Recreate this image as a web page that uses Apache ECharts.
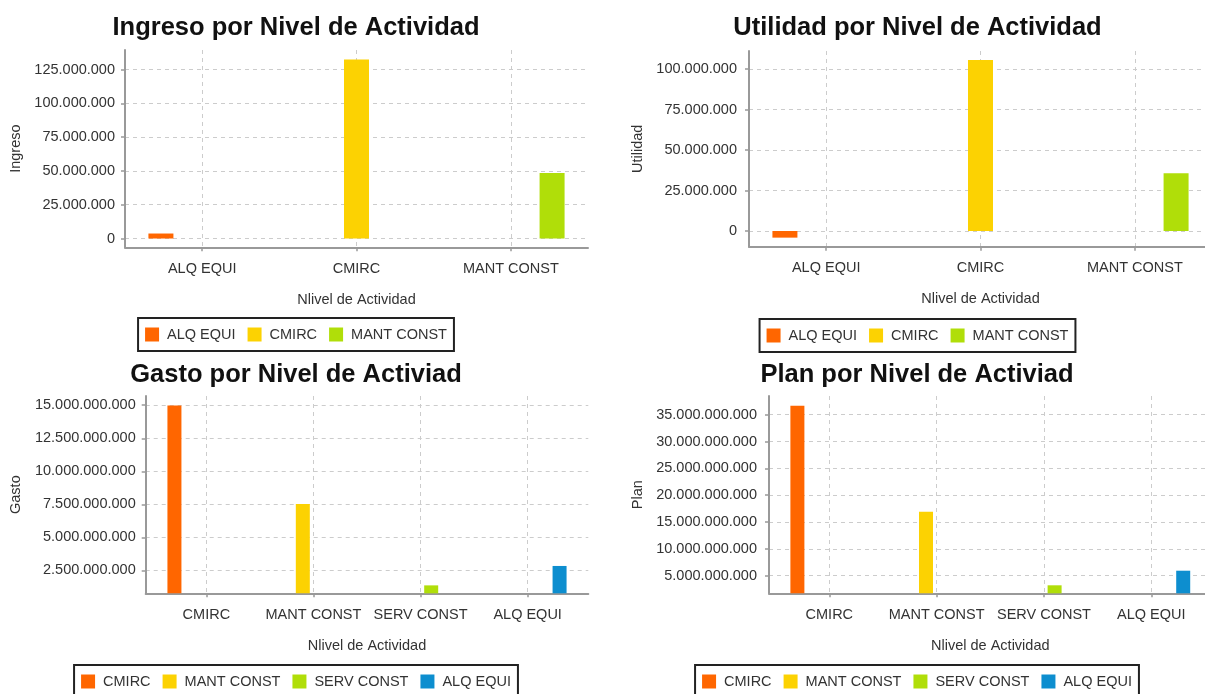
<!DOCTYPE html>
<html>
<head>
<meta charset="utf-8">
<title>Nivel de Actividad</title>
<script src="https://cdn.jsdelivr.net/npm/echarts@6/dist/echarts.min.js"></script>
<style>
  html, body { margin: 0; padding: 0; background: #fff; overflow: hidden; }
  .chart { position: absolute; }
</style>
</head>
<body>
<div id="ingreso" class="chart" style="left:0;top:0;width:592px;height:355px"></div>
<div id="utilidad" class="chart" style="left:600px;top:0;width:635px;height:355px"></div>
<div id="gasto" class="chart" style="left:0;top:355px;width:592px;height:339px"></div>
<div id="plan" class="chart" style="left:600px;top:355px;width:634px;height:339px"></div>
<script>
const palette = ['#FF6600', '#FCD202', '#B0DE09', '#0D8ECF'];
const xName = 'Nlivel de Actividad';

// Ingreso
const ingresoCategories = ['ALQ EQUI', 'CMIRC', 'MANT CONST'];
const ingresoValues = [3700000, 132400000, 48500000];
const ingresoTicks = [0, 25000000, 50000000, 75000000, 100000000, 125000000];

// Utilidad
const utilidadCategories = ['ALQ EQUI', 'CMIRC', 'MANT CONST'];
const utilidadValues = [-4100000, 105700000, 35700000];
const utilidadTicks = [0, 25000000, 50000000, 75000000, 100000000];

// Gasto
const gastoCategories = ['CMIRC', 'MANT CONST', 'SERV CONST', 'ALQ EQUI'];
const gastoValues = [14980000000, 7520000000, 1360000000, 2830000000];
const gastoTicks = [2500000000, 5000000000, 7500000000, 10000000000, 12500000000, 15000000000];

// Plan
const planCategories = ['CMIRC', 'MANT CONST', 'SERV CONST', 'ALQ EQUI'];
const planValues = [36680000000, 16920000000, 3210000000, 5930000000];
const planTicks = [5000000000, 10000000000, 15000000000, 20000000000, 25000000000, 30000000000, 35000000000];

const font = 'Liberation Sans, Arial, sans-serif';

function fmt(v) {
  return String(Math.round(v)).replace(/\B(?=(\d{3})+(?!\d))/g, '.');
}

function drawChart(id, cfg) {
  const chart = echarts.init(document.getElementById(id));
  const n = cfg.categories.length;
  const step = cfg.ticks[1] - cfg.ticks[0];
  const text = { fontFamily: font, fontSize: 14.5, color: '#333' };
  const axisStyle = { color: '#999', width: 2 };
  const gridLine = { color: '#cccccc', width: 1, type: [4, 4] };
  // helper axis with two slots per category, so the vertical grid lines land on the category centres
  const half = [];
  for (let i = 0; i < n * 2; i++) half.push('h' + i);

  chart.setOption({
    animation: false,
    color: palette,
    textStyle: { fontFamily: font },
    title: {
      text: cfg.title,
      left: 'center',
      top: cfg.titleTop,
      padding: 0,
      textStyle: { fontFamily: font, fontSize: 25.5, fontWeight: 'bold', color: '#111' }
    },
    legend: {
      data: cfg.categories,
      left: 'center',
      top: cfg.legendTop,
      icon: 'rect',
      itemWidth: 14,
      itemHeight: 14,
      itemGap: 12,
      padding: [9, 7],
      borderColor: '#222',
      borderWidth: 2,
      borderRadius: 0,
      textStyle: { ...text, padding: [0, 0, 0, 3] }
    },
    grid: [
      { left: cfg.left, width: cfg.width, top: cfg.top, height: cfg.height, outerBoundsMode: 'none' },
      { left: cfg.left + cfg.pad, width: cfg.width - 2 * cfg.pad, top: cfg.top, height: cfg.height, outerBoundsMode: 'none' }
    ],
    xAxis: [
      {
        type: 'value', gridIndex: 0, min: 0, max: 1,
        axisLine: { show: true, onZero: false, lineStyle: axisStyle },
        axisTick: { show: false }, axisLabel: { show: false }, splitLine: { show: false }
      },
      {
        type: 'category', gridIndex: 1, data: cfg.categories,
        name: xName, nameLocation: 'middle', nameGap: 45, nameTextStyle: text,
        axisLine: { show: false, onZero: false },
        axisTick: { show: true, alignWithLabel: true, length: 4, lineStyle: { color: '#999', width: 1.5 } },
        axisLabel: { ...text, margin: 14, interval: 0 },
        splitLine: { show: false }
      },
      {
        type: 'category', gridIndex: 1, position: 'top', data: half,
        axisLine: { show: false, onZero: false }, axisTick: { show: false }, axisLabel: { show: false },
        splitLine: { show: true, showMaxLine: false, interval: (i) => i % 2 === 1, lineStyle: gridLine }
      }
    ],
    yAxis: [
      {
        type: 'value', gridIndex: 0, min: cfg.min, max: cfg.max,
        minInterval: step, maxInterval: step,
        name: cfg.yName, nameLocation: 'middle', nameGap: cfg.nameGap, nameTextStyle: text,
        axisLine: { show: true, onZero: false, lineStyle: axisStyle },
        axisTick: { show: true, length: 4, lineStyle: { color: '#999', width: 1.5 } },
        axisLabel: {
          ...text, margin: cfg.labelMargin, showMinLabel: false, showMaxLabel: false,
          formatter: (v) => (cfg.ticks.includes(v) ? fmt(v) : '')
        },
        splitLine: { show: true, showMinLine: false, showMaxLine: false, lineStyle: gridLine }
      },
      { type: 'value', gridIndex: 1, min: cfg.min, max: cfg.max, show: false }
    ],
    series: cfg.categories.map((name, i) => ({
      name: name,
      type: 'bar',
      xAxisIndex: 1,
      yAxisIndex: 1,
      barWidth: cfg.barWidth,
      barGap: cfg.barGap,
      data: cfg.categories.map((c, j) => (j === i ? cfg.values[i] : null))
    }))
  });
}

drawChart('ingreso', {
  title: 'Ingreso por Nivel de Actividad', yName: 'Ingreso',
  categories: ingresoCategories, values: ingresoValues, ticks: ingresoTicks,
  min: -6500000, max: 139500000,
  left: 125, width: 463, pad: 0, top: 50, height: 197.3,
  titleTop: 15, legendTop: 318, nameGap: 101, labelMargin: 10,
  barWidth: 25, barGap: '65%'
});

drawChart('utilidad', {
  title: 'Utilidad por Nivel de Actividad', yName: 'Utilidad',
  categories: utilidadCategories, values: utilidadValues, ticks: utilidadTicks,
  min: -9700000, max: 111200000,
  left: 149, width: 463, pad: 0, top: 51, height: 195.7,
  titleTop: 15, legendTop: 319, nameGap: 103, labelMargin: 12,
  barWidth: 25, barGap: '65%'
});

drawChart('gasto', {
  title: 'Gasto por Nivel de Activiad', yName: 'Gasto',
  categories: gastoCategories, values: gastoValues, ticks: gastoTicks,
  min: 760000000, max: 15700000000,
  left: 145.7, width: 442.6, pad: 7.1, top: 41, height: 197.3,
  titleTop: 7, legendTop: 310, nameGap: 122, labelMargin: 10,
  barWidth: 14, barGap: '52%'
});

drawChart('plan', {
  title: 'Plan por Nivel de Activiad', yName: 'Plan',
  categories: planCategories, values: planValues, ticks: planTicks,
  min: 1720000000, max: 38480000000,
  left: 169, width: 442.6, pad: 6.65, top: 41, height: 197.3,
  titleTop: 7, legendTop: 310, nameGap: 123, labelMargin: 12,
  barWidth: 14, barGap: '52%'
});
</script>
</body>
</html>
